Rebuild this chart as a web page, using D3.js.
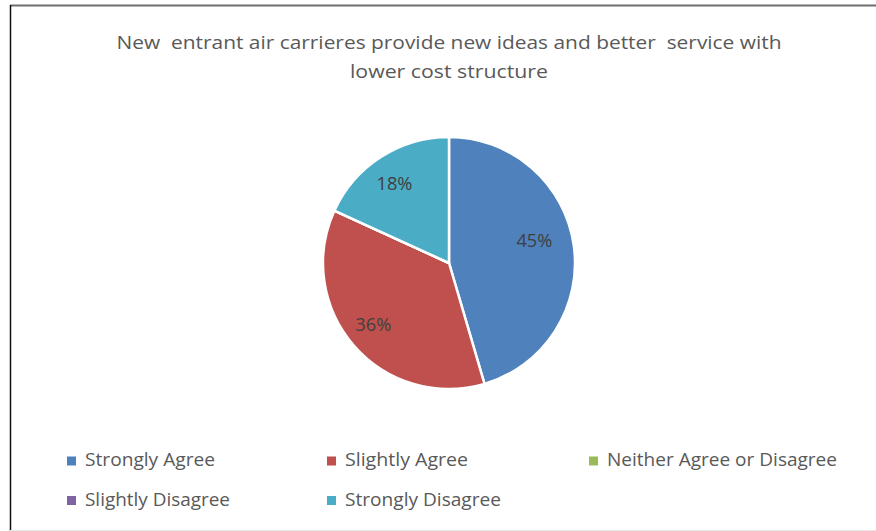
<!DOCTYPE html>
<html><head><meta charset="utf-8">
<script src="https://cdn.jsdelivr.net/npm/d3@7"></script>
<style>body{margin:0;background:#fff;}svg{display:block;}</style>
</head><body>
<svg id="c" width="876" height="531"></svg>
<script>
const categories = ["Strongly Agree","Slightly Agree","Neither Agree or Disagree","Slightly Disagree","Strongly Disagree"];
const values = [5,4,0,0,2];
const colors = ["#4F81BD","#C0504D","#9BBB59","#8064A2","#4BACC6"];
const titleLines = ["New  entrant air carrieres provide new ideas and better  service with","lower cost structure"];

// layout (not data)
const legendLayout = [
  {x:67,y:461,w:130},{x:327,y:461,w:123},{x:589,y:461,w:230},
  {x:67,y:500.5,w:145},{x:327,y:500.5,w:156}
];
const labelNudge = [[-2.5,-10],[0,0],[0,0],[0,0],[-6.5,-4.5]];
labelNudge[1] = [-8.5,3.5];

const svg = d3.select("#c");
// frame
svg.append("line").attr("x1",10).attr("x2",876).attr("y1",5.5).attr("y2",5.5).attr("stroke","#6e6e6e").attr("stroke-width",2);
svg.append("line").attr("x1",10.5).attr("x2",10.5).attr("y1",5).attr("y2",531).attr("stroke","#111").attr("stroke-width",1.5);
svg.append("line").attr("x1",10).attr("x2",876).attr("y1",530.5).attr("y2",530.5).attr("stroke","#e6e6e6").attr("stroke-width",1);

const font = "'Open Sans', sans-serif";
const t = svg.append("text").attr("font-family",font).attr("font-size",19).attr("fill","#595959").attr("text-anchor","middle");
t.append("tspan").attr("x",449).attr("y",48.5).attr("textLength",665).attr("lengthAdjust","spacingAndGlyphs").style("white-space","pre").text(titleLines[0]);
t.append("tspan").attr("x",449).attr("y",77.5).attr("textLength",198).attr("lengthAdjust","spacingAndGlyphs").text(titleLines[1]);

const cx=449, cy=263, r=126;
const total = d3.sum(values);
const pie = d3.pie().sort(null).value(d=>d)(values);
const arc = d3.arc().innerRadius(0).outerRadius(r);
const g = svg.append("g").attr("transform",`translate(${cx},${cy})`);
g.selectAll("path").data(pie).join("path")
  .attr("d",arc).attr("fill",(d,i)=>colors[i]).attr("stroke","#fff").attr("stroke-width",2.5);
const labelArc = d3.arc().innerRadius(r*0.705).outerRadius(r*0.705);
g.selectAll("text.lbl").data(pie.filter(d=>d.value>0)).join("text")
  .attr("class","lbl")
  .attr("transform",d=>{const c=labelArc.centroid(d);const n=labelNudge[d.index];return `translate(${c[0]+n[0]},${c[1]+n[1]})`;})
  .attr("text-anchor","middle").attr("dy","0.35em")
  .attr("font-family",font).attr("font-size",19).attr("fill","#404040")
  .attr("textLength",36).attr("lengthAdjust","spacingAndGlyphs")
  .text(d=>Math.round(d.value/total*100)+"%");

// legend
const leg = svg.selectAll("g.leg").data(categories).join("g").attr("class","leg")
  .attr("transform",(d,i)=>`translate(${legendLayout[i].x},${legendLayout[i].y})`);
leg.append("rect").attr("x",0).attr("y",-4.5).attr("width",9).attr("height",9).attr("fill",(d,i)=>colors[i]);
leg.append("text").attr("x",18).attr("y",5).attr("font-family",font).attr("font-size",19).attr("fill","#595959")
  .attr("textLength",(d,i)=>legendLayout[i].w).attr("lengthAdjust","spacingAndGlyphs").text(d=>d);
</script>
</body></html>
